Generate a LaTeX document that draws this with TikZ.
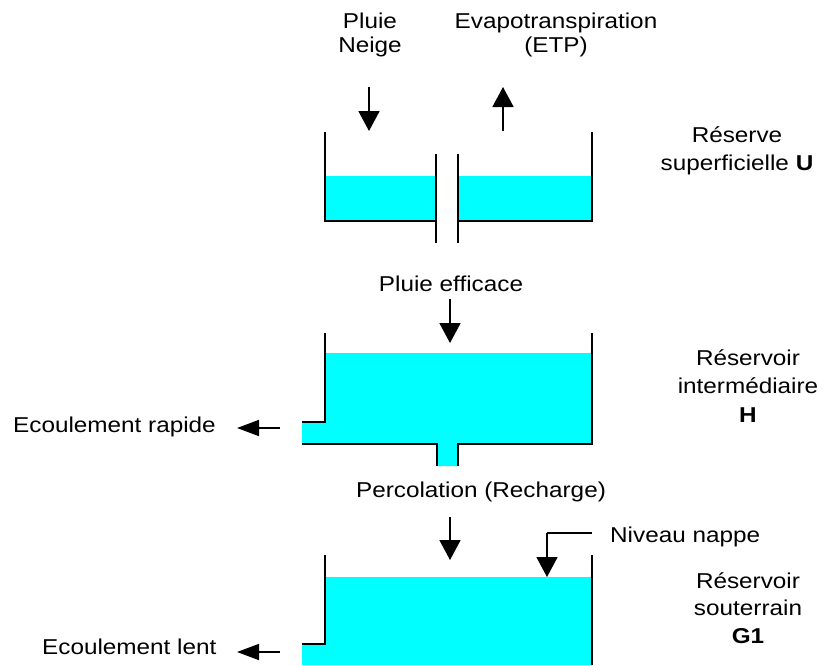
\documentclass[tikz,border=0pt]{standalone}
\usepackage{fontspec}
\setmainfont[FakeStretch=1.13]{Liberation Sans}
\usetikzlibrary{arrows.meta}
\definecolor{water}{HTML}{00FFFF}
\begin{document}
\begin{tikzpicture}[x=1pt,y=-1pt,
  wall/.style={line width=2pt},
  waterfill/.style={fill=water,draw=none},
  flow/.style={line width=1.7pt,-{Triangle[length=20pt,width=21pt]}},
  sideflow/.style={line width=1.7pt,-{Triangle[length=22pt,width=16pt]}},
  lbl/.style={inner sep=0pt,anchor=base,font=\fontsize{21.5}{24}\selectfont},
  lbll/.style={inner sep=0pt,anchor=base west,font=\fontsize{21.5}{24}\selectfont}]
\useasboundingbox (0,0) rectangle (824,665);

% ---------- top reservoir (U) ----------
\fill[waterfill] (325,176) rectangle (436,221);
\fill[waterfill] (458,176) rectangle (592,221);
\draw[wall] (325,132) -- (325,221) -- (436,221);
\draw[wall] (436,154) -- (436,243);
\draw[wall] (458,154) -- (458,243);
\draw[wall] (458,221) -- (592,221) -- (592,132);

% ---------- middle reservoir (H) ----------
\fill[waterfill] (325,353) -- (592,353) -- (592,444) -- (458,444) -- (458,466)
  -- (437,466) -- (437,444) -- (302,444) -- (302,422) -- (325,422) -- cycle;
\draw[wall] (325,333) -- (325,422) -- (302,422);
\draw[wall] (302,444) -- (437,444) -- (437,466);
\draw[wall] (458,466) -- (458,444) -- (592,444) -- (592,333);

% ---------- bottom reservoir (G1) ----------
\fill[waterfill] (325,577) -- (592,577) -- (592,665) -- (302,665) -- (302,644)
  -- (325,644) -- cycle;
\draw[wall] (325,555) -- (325,644) -- (302,644);
\draw[wall] (592,555) -- (592,665);

% ---------- labels ----------
\node[lbl] (pluie) at (370,28.5) {Pluie};
\node[lbl] (neige) at (370,52.5) {Neige};
\node[lbl] (etp1) at (556,28.5) {Evapotranspiration};
\node[lbl] (etp2) at (556,52.5) {(ETP)};
\node[lbl] (u1) at (737,142) {Réserve};
\node[lbl] (u2) at (737,170) {superficielle \textbf{U}};
\node[lbl] (eff) at (451,291) {Pluie efficace};
\node[lbl] (h1) at (748,365) {Réservoir};
\node[lbl] (h2) at (748,393) {intermédiaire};
\node[lbl] (h3) at (748,422) {\textbf{H}};
\node[lbll] (rap) at (13,432) {Ecoulement rapide};
\node[lbl] (perc) at (481,497) {Percolation (Recharge)};
\node[lbll] (niv) at (610,542) {Niveau nappe};
\node[lbl] (g1) at (748,588) {Réservoir};
\node[lbl] (g2) at (748,615) {souterrain};
\node[lbl] (g3) at (748,643) {\textbf{G1}};
\node[lbll] (lent) at (42,654) {Ecoulement lent};

% ---------- arrow end points ----------
\coordinate (pA) at (369,87);   \coordinate (pB) at (369,131);
\coordinate (eA) at (503,131);  \coordinate (eB) at (503,87);
\coordinate (fA) at (450,299);  \coordinate (fB) at (450,343);
\coordinate (cA) at (450,517);  \coordinate (cB) at (450,560);
\coordinate (nA) at (592,533);  \coordinate (nK) at (547,533);
\coordinate (nB) at (547,577);
\coordinate (rA) at (280,428);  \coordinate (rB) at (237,428);
\coordinate (lA) at (280,652);  \coordinate (lB) at (237,652);

\draw[flow] (pA) -- (pB);
\draw[flow] (eA) -- (eB);
\draw[flow] (fA) -- (fB);
\draw[flow] (cA) -- (cB);
\draw[line width=1.7pt] (nA) -- (nK);
\draw[flow] (nK) -- (nB);
\draw[sideflow] (rA) -- (rB);
\draw[sideflow] (lA) -- (lB);
\end{tikzpicture}
\end{document}
